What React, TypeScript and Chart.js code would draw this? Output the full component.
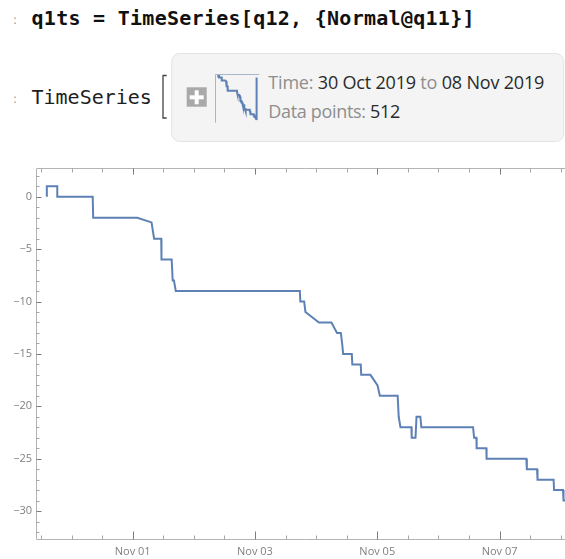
import React, { useEffect, useRef } from 'react';
import { Chart, registerables } from 'chart.js';

Chart.register(...registerables);

// Time in hours since 30 Oct 2019 00:00, and the series value at that time
const hours = [
  14.3, 14.3, 18.4, 18.4, 32.3, 32.5,
  49.8, 55.4, 56.4, 59.2, 59.3, 63.3, 63.7, 64.2, 64.9,
  113.6, 113.8, 115.3, 115.8, 121.1, 126.0, 128.2, 129.7, 130.2, 130.6,
  134.0, 134.2, 137.5, 137.7, 141.3, 144.1, 145.0, 152.0, 152.4, 153.1,
  157.4, 157.5, 159.0, 159.4, 160.9, 161.3, 181.6, 182.0, 182.9, 183.0,
  186.8, 186.9, 202.5, 202.7, 206.7, 206.9, 213.2, 213.4, 216.9, 217.1, 218.3, 218.5,
];
const values = [
  0, 1, 1, 0, 0, -2,
  -2, -2.45, -4, -4, -6, -6, -8, -8, -9,
  -9, -10, -10, -11, -12, -12, -13, -13, -14, -15,
  -15, -16, -16, -17, -17, -18, -19, -19, -21, -22,
  -22, -23, -23, -21, -21, -22, -22, -23, -23, -24,
  -24, -25, -25, -26, -26, -27, -27, -28, -28, -29, -29, 0,
];

// ticks
const xTickHours = [12, 24, 36, 48, 60, 72, 84, 96, 108, 120, 132, 144, 156, 168, 180, 192, 204, 216];
const xMajorHours = [48, 96, 144, 192];
const xMajorLabels = ['Nov 01', 'Nov 03', 'Nov 05', 'Nov 07'];
const yMajorValues = [0, -5, -10, -15, -20, -25, -30];
const yMajorLabels = ['0', '\u22125', '\u221210', '\u221215', '\u221220', '\u221225', '\u221230'];
const yTickValues: number[] = [];
for (let v = 2; v >= -32; v--) yTickValues.push(v);

const X_MIN = 10.05;
const X_MAX = 221.6;
const Y_MIN = -32.76;
const Y_MAX = 2.79;

const LINE = 'rgb(94,129,181)';

const framePlugin = {
  id: 'mmaFrame',
  afterDraw(chart: any) {
    const { ctx, chartArea: a, scales } = chart;
    const xs = scales.x;
    const ys = scales.y;
    const L = Math.round(a.left) + 0.5;
    const R = Math.round(a.right) - 0.5;
    const T = Math.round(a.top) + 0.5;
    const B = Math.round(a.bottom) - 0.5;
    ctx.save();
    ctx.lineWidth = 1;
    ctx.strokeStyle = '#b4b4b4';
    ctx.beginPath();
    ctx.moveTo(L, T); ctx.lineTo(R, T); ctx.lineTo(R, B); ctx.lineTo(L, B); ctx.closePath();
    ctx.stroke();
    xs.ticks.forEach((t: any) => {
      const major = xMajorHours.indexOf(t.value) >= 0;
      const len = major ? 8 : 4;
      const px = Math.round(xs.getPixelForValue(t.value)) + 0.5;
      ctx.strokeStyle = major ? '#7c7c7c' : '#a6a6a6';
      ctx.beginPath();
      ctx.moveTo(px, B); ctx.lineTo(px, B - len);
      ctx.moveTo(px, T); ctx.lineTo(px, T + (major ? 6 : 4));
      ctx.stroke();
    });
    ys.ticks.forEach((t: any) => {
      const major = yMajorValues.indexOf(t.value) >= 0;
      const len = major ? 5 : 3;
      const py = Math.round(ys.getPixelForValue(t.value)) + 0.5;
      ctx.strokeStyle = major ? '#7c7c7c' : '#a6a6a6';
      ctx.beginPath();
      ctx.moveTo(L, py); ctx.lineTo(L + len, py);
      ctx.moveTo(R, py); ctx.lineTo(R - len, py);
      ctx.stroke();
    });
    ctx.restore();
  },
};

const thumbFrame = {
  id: 'thumbFrame',
  afterDraw(chart: any) {
    const { ctx, chartArea: a } = chart;
    const L = Math.round(a.left) + 0.5;
    const T = Math.round(a.top) + 0.5;
    ctx.save();
    ctx.strokeStyle = '#a9b6c9';
    ctx.lineWidth = 1;
    ctx.beginPath();
    ctx.moveTo(L, a.bottom); ctx.lineTo(L, T); ctx.lineTo(a.right, T);
    ctx.stroke();
    ctx.restore();
  },
};

function seriesPoints() {
  return hours.map((h, i) => ({ x: h, y: values[i] }));
}

export default function App() {
  const mainRef = useRef<HTMLCanvasElement>(null);
  const thumbRef = useRef<HTMLCanvasElement>(null);

  useEffect(() => {
    const main = new Chart(mainRef.current as HTMLCanvasElement, {
      type: 'line',
      data: {
        datasets: [
          {
            data: seriesPoints(),
            borderColor: LINE,
            borderWidth: 2,
            pointRadius: 0,
            tension: 0,
            fill: false,
          },
        ],
      },
      options: {
        animation: false,
        responsive: false,
        devicePixelRatio: 1,
        events: [],
        layout: { padding: { top: 17.5, right: 1, left: 0, bottom: 0 }, autoPadding: false },
        plugins: { legend: { display: false }, tooltip: { enabled: false } },
        scales: {
          x: {
            type: 'linear',
            min: X_MIN,
            max: X_MAX,
            afterBuildTicks: (s: any) => {
              s.ticks = xTickHours.map((v) => ({ value: v }));
            },
            afterFit: (s: any) => {
              s.height = 19;
            },
            grid: { display: false, drawTicks: false },
            border: { display: false },
            ticks: {
              autoSkip: false,
              maxRotation: 0,
              minRotation: 0,
              padding: 5,
              color: '#7f7f7f',
              font: { family: 'Open Sans', size: 11 },
              callback: (v: any) => {
                const i = xMajorHours.indexOf(Number(v));
                return i >= 0 ? xMajorLabels[i] : '';
              },
            },
          },
          y: {
            type: 'linear',
            min: Y_MIN,
            max: Y_MAX,
            afterBuildTicks: (s: any) => {
              s.ticks = yTickValues.map((v) => ({ value: v }));
            },
            afterFit: (s: any) => {
              s.width = 36;
            },
            grid: { display: false, drawTicks: false },
            border: { display: false },
            ticks: {
              autoSkip: false,
              padding: 4,
              color: '#7f7f7f',
              font: { family: 'Open Sans', size: 11 },
              callback: (v: any) => {
                const i = yMajorValues.indexOf(Number(v));
                return i >= 0 ? yMajorLabels[i] : '';
              },
            },
          },
        },
      },
      plugins: [framePlugin],
    });

    const thumb = new Chart(thumbRef.current as HTMLCanvasElement, {
      type: 'line',
      data: {
        datasets: [
          {
            data: seriesPoints(),
            borderColor: LINE,
            borderWidth: 2,
            pointRadius: 0,
            tension: 0,
            fill: false,
          },
        ],
      },
      options: {
        animation: false,
        responsive: false,
        devicePixelRatio: 1,
        events: [],
        layout: { padding: { top: 4, left: 5, right: 5.7, bottom: 5.3 }, autoPadding: false },
        plugins: { legend: { display: false }, tooltip: { enabled: false } },
        scales: {
          x: { type: 'linear', display: false, min: -3.3, max: 232.3 },
          y: { type: 'linear', display: false, min: -30.84, max: 2.36 },
        },
      },
      plugins: [thumbFrame],
    });

    return () => {
      main.destroy();
      thumb.destroy();
    };
  }, []);

  const code = 'q1ts = TimeSeries[q12, {Normal@q11}]';

  return (
    <div
      style={{
        position: 'fixed',
        left: 0,
        top: 0,
        width: 565,
        height: 559,
        overflow: 'hidden',
        background: '#ffffff',
      }}
    >
      <svg width={565} height={559} style={{ position: 'absolute', left: 0, top: 0 }}>
        <text x={13} y={24} fontFamily="DejaVu Sans" fontSize={12} fill="#9a9a9a">:</text>
        <text
          x={31.5}
          y={25}
          fontFamily="DejaVu Sans Mono"
          fontWeight="bold"
          fontSize={20}
          fill="#111111"
          textLength={443}
        >
          {code}
        </text>
        <text x={13} y={103} fontFamily="DejaVu Sans" fontSize={12} fill="#9a9a9a">:</text>
        <text x={31.5} y={104} fontFamily="DejaVu Sans Mono" fontSize={20} fill="#1e1e1e">
          {'TimeSeries'}
        </text>
        <path d="M166.7 75.5 H163 V118 H166.7" stroke="#444444" strokeWidth={1.3} fill="none" />
        <rect x={171.7} y={53.5} width={392} height={88} rx={8} fill="#f4f4f4" stroke="#e3e3e3" />
        <rect x={186.7} y={87.3} width={20} height={19.4} fill="#a9a9a9" />
        <rect x={194.7} y={90.3} width={4} height={14} fill="#ffffff" />
        <rect x={189.7} y={95.3} width={14} height={4} fill="#ffffff" />
        <text x={268.3} y={89.3} fontFamily="Open Sans" fontSize={18} textLength={276}>
          <tspan fill="#8e8e8e">{'Time: '}</tspan>
          <tspan fill="#2a2a2a">{'30 Oct 2019 '}</tspan>
          <tspan fill="#8e8e8e">{'to '}</tspan>
          <tspan fill="#2a2a2a">{'08 Nov 2019'}</tspan>
        </text>
        <text x={268.3} y={118.3} fontFamily="Open Sans" fontSize={18} textLength={132}>
          <tspan fill="#8e8e8e">{'Data points: '}</tspan>
          <tspan fill="#2a2a2a">{'512'}</tspan>
        </text>
      </svg>
      <canvas
        ref={thumbRef}
        width={55}
        height={58}
        style={{ position: 'absolute', left: 210, top: 70, width: 55, height: 58 }}
      />
      <canvas
        ref={mainRef}
        width={576}
        height={409}
        style={{ position: 'absolute', left: 0, top: 150, width: 576, height: 409 }}
      />
    </div>
  );
}
